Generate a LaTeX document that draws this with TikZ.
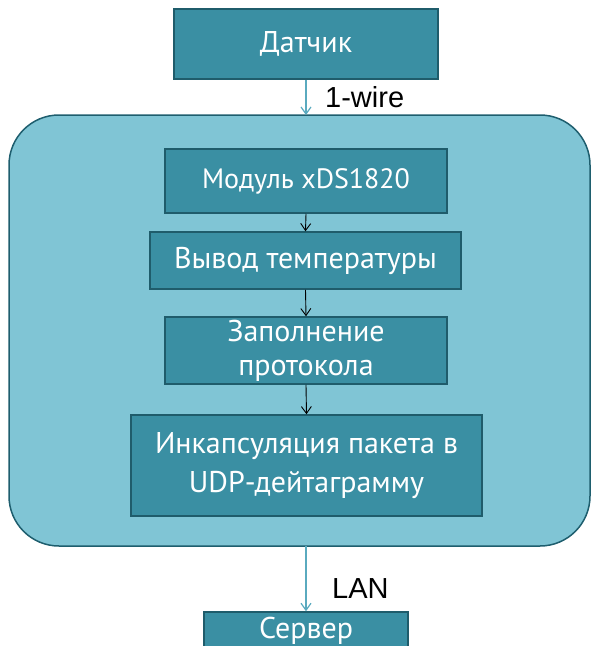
\documentclass[tikz,border=0pt]{standalone}
\usepackage{fontspec}
\setmainfont{PT Sans}
\newfontfamily\labfont{Liberation Sans}
\usetikzlibrary{arrows.meta}
\definecolor{boxfill}{HTML}{3A8FA3}
\definecolor{boxedge}{HTML}{1F5C6B}
\definecolor{bigfill}{HTML}{80C5D5}
\definecolor{bigedge}{HTML}{1E5E6E}
\definecolor{linkcol}{HTML}{5AAABF}
\tikzset{
  procbox/.style={draw=boxedge, line width=1.5pt, fill=boxfill, text=white,
    font=\fontsize{30}{34}\selectfont, align=center, inner sep=0pt},
  bigbox/.style={draw=bigedge, line width=1.5pt, fill=bigfill, rounded corners=50pt, inner sep=0pt},
  inarrow/.style={draw=black, line width=0.9pt, -{Straight Barb[length=7pt,width=10pt]}},
  outarrow/.style={draw=linkcol, line width=1.2pt, -{Straight Barb[length=7pt,width=10pt]}},
  linklabel/.style={font=\labfont\fontsize{29}{32}\selectfont, text=black, inner sep=0pt}
}
\begin{document}
\begin{tikzpicture}[x=1pt,y=-1pt]
\useasboundingbox (0,0) rectangle (592,646);
\clip (0,0) rectangle (592,646);
\node[bigbox, minimum width=581pt, minimum height=431pt] (big) at (299.5,330.5) {};
\node[procbox, minimum width=264pt, minimum height=70pt] (sens) at (306,44) {Датчик};
\node[procbox, minimum width=282pt, minimum height=64pt, font=\fontsize{28}{32}\selectfont] (mod) at (306,181) {Модуль xDS1820};
\node[procbox, minimum width=311pt, minimum height=57pt] (out) at (305.5,260.5) {Вывод температуры};
\node[procbox, minimum width=282pt, minimum height=67pt] (fill) at (306,350.5) {Заполнение\\протокола};
\node[procbox, minimum width=351pt, minimum height=101pt, font=\fontsize{30}{39}\selectfont] (enc) at (306.5,465.5) {Инкапсуляция пакета в\\UDP-дейтаграмму};
\node[procbox, minimum width=204pt, minimum height=76pt] (serv) at (306,650) {};
\node[text=white, font=\fontsize{30}{34}\selectfont, inner sep=0pt] (servt) at (306,631) {Сервер};
\coordinate (bigtop) at (306,115);
\coordinate (bigbot) at (306,546);
\draw[outarrow] (sens.south) -- (bigtop);
\node[linklabel, anchor=west] (wire) at (325,97) {1-wire};
\draw[inarrow] (mod.south) -- (out.north);
\draw[inarrow] (out.south) -- (fill.north);
\draw[inarrow] (fill.south) -- (enc.north);
\draw[outarrow] (bigbot) -- (serv.north);
\node[linklabel, anchor=west] (lan) at (332,589) {LAN};
\end{tikzpicture}
\end{document}
